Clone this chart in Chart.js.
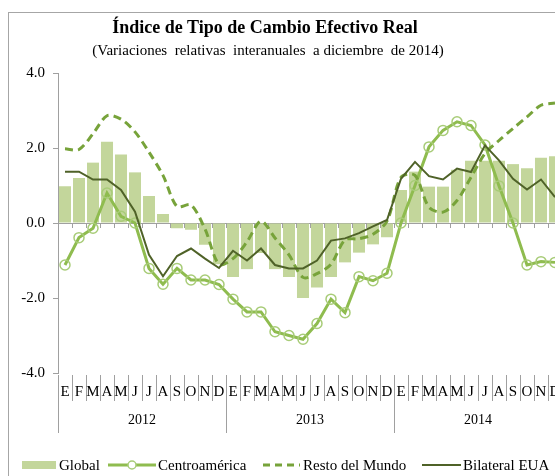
<!DOCTYPE html>
<html>
<head>
<meta charset="utf-8">
<script src="https://cdn.jsdelivr.net/npm/chart.js@4"></script>
<style>
  html, body { margin:0; padding:0; width:555px; height:476px; overflow:hidden; background:#fff; }
  #wrap { position:relative; width:555px; height:476px; overflow:hidden; }
  #frame { position:absolute; left:8px; top:12px; width:640px; height:520px; border:1px solid #a6a6a6; box-sizing:border-box; }
  canvas { position:absolute; left:0; top:0; }
  .t { position:absolute; font-family:'Liberation Serif','Times New Roman',serif; color:#000; white-space:pre; }
  #title { left:0; width:530px; top:17px; text-align:center; font-weight:bold; font-size:18px; }
  #subtitle { left:0; width:536px; top:42px; text-align:center; font-size:15px; }
  .leg { position:absolute; top:456px; font-family:'Liberation Serif','Times New Roman',serif; font-size:15px; color:#000; white-space:pre; line-height:18px; }
</style>
</head>
<body>
<div id="wrap">
  <div id="frame"></div>
  <canvas id="c" width="640" height="476"></canvas>
  <div id="title" class="t">Índice de Tipo de Cambio Efectivo Real</div>
  <div id="subtitle" class="t">(Variaciones  relativas  interanuales  a diciembre  de 2014)</div>
  <svg style="position:absolute;left:0;top:455px" width="555" height="20">
    <rect x="22" y="6" width="34" height="8" fill="#c3d69b"></rect>
    <line x1="108" y1="10" x2="156" y2="10" stroke="#8fbc4f" stroke-width="3"></line>
    <circle cx="132" cy="10" r="4" fill="#fff" stroke="#a8cc78" stroke-width="1.5"></circle>
    <line x1="263" y1="10" x2="300" y2="10" stroke="#77a33a" stroke-width="3" stroke-dasharray="7,5"></line>
    <line x1="422" y1="10" x2="461" y2="10" stroke="#4f6228" stroke-width="2"></line>
  </svg>
  <div class="leg" style="left:59px">Global</div>
  <div class="leg" style="left:158px">Centroamérica</div>
  <div class="leg" style="left:303px">Resto del Mundo</div>
  <div class="leg" style="left:463px">Bilateral EUA</div>
</div>
<script>
const months = ['E','F','M','A','M','J','J','A','S','O','N','D'];
const years = ['2012','2013','2014'];
const yTicks = [4, 2, 0, -2, -4];

const globalVals = [0.98, 1.20, 1.61, 2.17, 1.83, 1.35, 0.72, 0.24, -0.14, -0.18, -0.58, -1.10,
                    -1.44, -1.23, -0.80, -1.23, -1.44, -2.00, -1.72, -1.44, -1.05, -0.79, -0.57, -0.38,
                    0.88, 1.37, 0.97, 0.97, 1.42, 1.66, 1.66, 1.66, 1.57, 1.46, 1.74, 1.78];
const centroamerica = [-1.12, -0.39, -0.14, 0.80, 0.18, 0.00, -1.21, -1.63, -1.21, -1.52, -1.52, -1.64,
                       -2.03, -2.37, -2.37, -2.90, -3.00, -3.10, -2.68, -2.03, -2.39, -1.43, -1.54, -1.34,
                       0.00, 1.00, 2.03, 2.47, 2.70, 2.60, 2.08, 0.99, 0.00, -1.12, -1.03, -1.05];
const restoMundo = [1.98, 1.96, 2.38, 2.86, 2.77, 2.43, 1.89, 1.27, 0.44, 0.48, -0.16, -1.10,
                    -0.95, -0.50, 0.05, -0.40, -0.85, -1.45, -1.35, -1.10, -0.45, -0.42, -0.30, 0.05,
                    1.22, 1.27, 0.42, 0.29, 0.60, 1.22, 1.85, 2.20, 2.52, 2.83, 3.14, 3.20];
const bilateralEUA = [1.37, 1.37, 1.16, 1.16, 0.88, 0.30, -0.85, -1.42, -0.88, -0.68, -0.95, -1.20,
                      -0.74, -1.00, -0.68, -1.12, -1.21, -1.21, -1.00, -0.47, -0.41, -0.27, -0.09, 0.08,
                      1.18, 1.63, 1.25, 1.16, 1.45, 1.36, 2.07, 1.67, 1.18, 0.89, 1.16, 0.69];

const labels = [];
years.forEach(y => months.forEach(m => labels.push(m + ' ' + y)));

const FONT = "'Liberation Serif','Times New Roman',serif";

const axisPlugin = {
  id: 'multiAxis',
  beforeDatasetsDraw(chart) {
    const ctx = chart.ctx, xs = chart.scales.x, ys = chart.scales.y;
    const y0 = ys.getPixelForValue(0);
    const w = xs.getPixelForValue(1) - xs.getPixelForValue(0);
    ctx.save();
    ctx.strokeStyle = '#a0a0a0';
    ctx.lineWidth = 1;
    ctx.beginPath();
    ctx.moveTo(chart.chartArea.left, Math.round(y0) + 0.5);
    ctx.lineTo(chart.chartArea.right, Math.round(y0) + 0.5);
    for (let i = 0; i <= labels.length; i++) {
      const bx = Math.round(xs.getPixelForValue(0) - w / 2 + i * w) + 0.5;
      ctx.moveTo(bx, Math.round(y0));
      ctx.lineTo(bx, Math.round(y0) + 5);
    }
    ctx.stroke();
    ctx.restore();
  },
  afterDraw(chart) {
    const ctx = chart.ctx, xs = chart.scales.x, ys = chart.scales.y;
    const yb = ys.getPixelForValue(-4);
    const w = xs.getPixelForValue(1) - xs.getPixelForValue(0);
    ctx.save();
    ctx.strokeStyle = '#a0a0a0';
    ctx.lineWidth = 1;
    ctx.beginPath();
    for (let i = 0; i <= labels.length; i++) {
      const bx = Math.round(xs.getPixelForValue(0) - w / 2 + i * w) + 0.5;
      const long = (i % 12 === 0);
      ctx.moveTo(bx, yb + 2);
      ctx.lineTo(bx, long ? yb + 60 : yb + 28);
    }
    ctx.stroke();
    ctx.fillStyle = '#000';
    ctx.font = '15px ' + FONT;
    ctx.textAlign = 'center';
    ctx.textBaseline = 'middle';
    labels.forEach((l, i) => {
      ctx.fillText(months[i % 12], xs.getPixelForValue(i), yb + 19);
    });
    ctx.font = '14px ' + FONT;
    years.forEach((yr, k) => {
      const c = (xs.getPixelForValue(k * 12) + xs.getPixelForValue(k * 12 + 11)) / 2;
      ctx.fillText(yr, c, yb + 47);
    });
    ctx.restore();
  }
};

new Chart(document.getElementById('c'), {
  type: 'bar',
  data: {
    labels: labels,
    datasets: [
      { type: 'line', label: 'Bilateral EUA', data: bilateralEUA, borderColor: '#4f6228', borderWidth: 2,
        pointRadius: 0, tension: 0, order: 1 },
      { type: 'line', label: 'Resto del Mundo', data: restoMundo, borderColor: '#77a33a', borderWidth: 3,
        borderDash: [8, 5], pointRadius: 0, tension: 0.3, order: 2 },
      { type: 'line', label: 'Centroamérica', data: centroamerica, borderColor: '#8fbc4f', borderWidth: 3,
        pointRadius: 5, pointBorderWidth: 1.5, pointBorderColor: '#a8cc78', pointBackgroundColor: 'rgba(255,255,255,0)',
        tension: 0, order: 3 },
      { type: 'bar', label: 'Global', data: globalVals, backgroundColor: '#c3d69b', borderWidth: 0,
        categoryPercentage: 1.0, barPercentage: 0.86, order: 4 }
    ]
  },
  options: {
    responsive: false,
    devicePixelRatio: 1,
    animation: false,
    layout: { padding: { left: 0, right: 78, top: 73, bottom: 103 } },
    plugins: { legend: { display: false }, title: { display: false }, tooltip: { enabled: false } },
    scales: {
      x: { display: false },
      y: {
        min: -4, max: 4,
        afterFit(scale) { scale.width = 58; },
        afterBuildTicks(scale) { scale.ticks = yTicks.map(v => ({ value: v })); },
        ticks: { font: { family: FONT, size: 15 }, color: '#000', padding: 8,
                 callback: v => v.toFixed(1) },
        grid: { drawOnChartArea: false, drawTicks: true, tickLength: 5, color: '#a0a0a0' },
        border: { color: '#a0a0a0' }
      }
    }
  },
  plugins: [axisPlugin]
});
</script>
</body>
</html>
